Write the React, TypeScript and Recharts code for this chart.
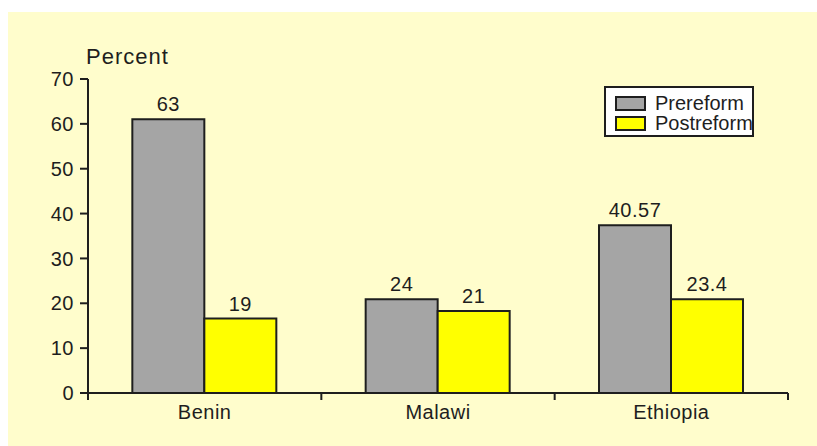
import { BarChart, Bar, XAxis, YAxis, Legend, LabelList } from "recharts";

// Reform comparison chart: percent by country, before and after reform.

const countries = ["Benin", "Malawi", "Ethiopia"];
const prereform = [61.0, 20.9, 37.4];
const postreform = [16.6, 18.3, 20.9];
const prereformLabels = ["63", "24", "40.57"];
const postreformLabels = ["19", "21", "23.4"];
const seriesNames = ["Prereform", "Postreform"];
const yTicks = [0, 10, 20, 30, 40, 50, 60, 70];

const FONT = "'Liberation Sans', Arial, sans-serif";
const INK = "#1e1e1e";

const data = countries.map((country, i) => ({
  country,
  pre: prereform[i],
  post: postreform[i],
  preLabel: prereformLabels[i],
  postLabel: postreformLabels[i],
}));

function LegendBox({ payload }: any) {
  const items = [...(payload || [])].sort(
    (a: any, b: any) => seriesNames.indexOf(a.value) - seriesNames.indexOf(b.value)
  );
  return (
    <div
      style={{
        width: 150,
        height: 51,
        boxSizing: "border-box",
        border: `2px solid ${INK}`,
        background: "#fff",
        overflow: "hidden",
        padding: "5px 0 0 9px",
        fontFamily: FONT,
        fontSize: 20,
        lineHeight: "20px",
        color: INK,
        whiteSpace: "nowrap",
      }}
    >
      {items.map((entry: any) => (
        <div key={entry.value} style={{ display: "flex", alignItems: "center" }}>
          <span
            style={{
              display: "inline-block",
              width: 31,
              height: 15,
              boxSizing: "border-box",
              border: `2px solid ${INK}`,
              background: entry.color,
              marginRight: 9,
              flexShrink: 0,
            }}
          />
          {entry.value}
        </div>
      ))}
    </div>
  );
}

function PercentLabel({ viewBox }: any) {
  if (!viewBox) return null;
  return (
    <text
      x={viewBox.x + viewBox.width - 2}
      y={viewBox.y - 15}
      fontFamily={FONT}
      fontSize={22}
      fill={INK}
      letterSpacing={1}
    >
      Percent
    </text>
  );
}

// category label plus the Excel-style tick marks at the category edges
function CountryTick({ x, y, payload, index, visibleTicksCount, width }: any) {
  const half =
    payload && payload.offset ? payload.offset : width / visibleTicksCount / 2;
  const isLast = index === visibleTicksCount - 1;
  return (
    <g>
      <line x1={x - half} x2={x - half} y1={y} y2={y + 7} stroke={INK} strokeWidth={2} />
      {isLast && (
        <line x1={x + half} x2={x + half} y1={y} y2={y + 7} stroke={INK} strokeWidth={2} />
      )}
      <text
        x={x}
        y={y + 12}
        dy="0.71em"
        textAnchor="middle"
        fontFamily={FONT}
        fontSize={20}
        fill={INK}
        letterSpacing={0.5}
      >
        {payload.value}
      </text>
    </g>
  );
}

export default function App() {
  const textStyle = { fontFamily: FONT, fontSize: 20, fill: INK, letterSpacing: 0.5 };
  return (
    <div
      style={{
        position: "fixed",
        left: 8,
        top: 12,
        width: 809,
        height: 434,
        background: "#FFFDCC",
      }}
    >
      <BarChart
        width={809}
        height={434}
        data={data}
        margin={{ top: 67, right: 29, left: 0, bottom: 0 }}
        barCategoryGap="19%"
        barGap={0}
      >
        <YAxis
          width={80}
          domain={[0, 70]}
          ticks={yTicks}
          interval={0}
          tickSize={8}
          tickMargin={6}
          stroke={INK}
          strokeWidth={2}
          tick={textStyle}
          label={<PercentLabel />}
        />
        <XAxis
          dataKey="country"
          height={53}
          interval={0}
          tickLine={false}
          tickSize={0}
          tickMargin={0}
          stroke={INK}
          strokeWidth={2}
          tick={<CountryTick />}
        />
        <Legend
          layout="horizontal"
          verticalAlign="middle"
          align="center"
          width={150}
          height={51}
          wrapperStyle={{ top: 74, left: 596 }}
          content={<LegendBox />}
        />
        <Bar
          dataKey="pre"
          name="Prereform"
          fill="#A5A5A5"
          stroke={INK}
          strokeWidth={2}
          isAnimationActive={false}
        >
          <LabelList dataKey="preLabel" position="top" offset={8} style={textStyle} />
        </Bar>
        <Bar
          dataKey="post"
          name="Postreform"
          fill="#FFFF00"
          stroke={INK}
          strokeWidth={2}
          isAnimationActive={false}
        >
          <LabelList dataKey="postLabel" position="top" offset={8} style={textStyle} />
        </Bar>
      </BarChart>
    </div>
  );
}
